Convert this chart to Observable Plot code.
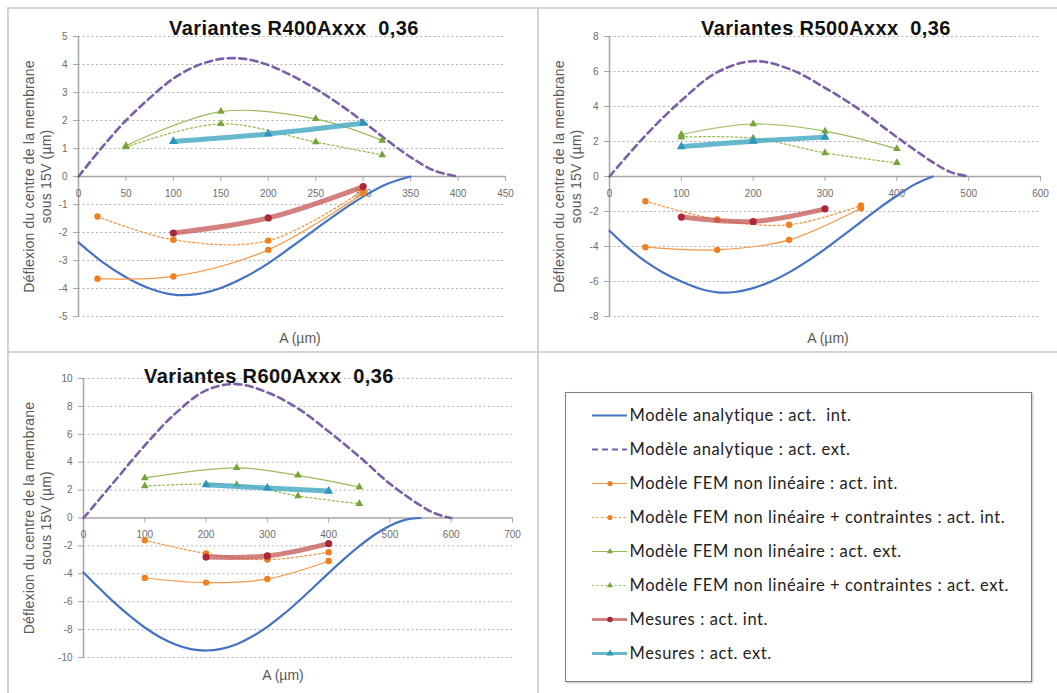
<!DOCTYPE html>
<html><head><meta charset="utf-8">
<script src="https://cdn.jsdelivr.net/npm/d3@7"></script>
<script src="https://cdn.jsdelivr.net/npm/@observablehq/plot@0.6"></script>
<style>
body{margin:0;background:#fff;}
#page{position:relative;width:1057px;height:693px;overflow:hidden;background:#fff;font-family:"Liberation Sans",Arial,sans-serif;}
.box{position:absolute;}
.sep{position:absolute;background:#d2d2d2;}
.title{position:absolute;font-weight:bold;font-size:20px;letter-spacing:0.4px;line-height:22px;color:#111;white-space:pre;transform:translateX(-50%);}
#legend{position:absolute;left:565px;top:392px;width:467px;height:290px;box-sizing:border-box;border:1.5px solid #7f7f7f;box-shadow:1px 1px 2px rgba(0,0,0,0.25);background:#fff;}
#legend svg text{letter-spacing:0.6px;}
.ylab text{letter-spacing:0.2px;}
</style></head>
<body><div id="page"></div>
<script>
// ---------- R400 ----------
const r400_xTicks = [0,50,100,150,200,250,300,350,400,450];
const r400_yTicks = [-5,-4,-3,-2,-1,0,1,2,3,4,5];
const r400_anaInt_A = [0,25,50,75,100,125,150,175,200,225,250,275,300,325,350];
const r400_anaInt   = [-2.35,-3.05,-3.6,-4.0,-4.22,-4.2,-3.98,-3.6,-3.1,-2.5,-1.88,-1.27,-0.72,-0.27,0];
const r400_anaExt_A = [0,25,50,75,100,125,150,175,200,225,250,275,300,325,350,375,400];
const r400_anaExt   = [0,1.05,2.0,2.8,3.5,3.96,4.2,4.2,3.98,3.6,3.13,2.58,1.96,1.3,0.69,0.21,0];
const r400_femInt_A = [20,100,200,300];
const r400_femInt   = [-3.65,-3.57,-2.62,-0.6];
const r400_femCInt_A = [20,100,200,300];
const r400_femCInt   = [-1.43,-2.26,-2.29,-0.5];
const r400_femExt_A = [50,150,250,320];
const r400_femExt   = [1.1,2.32,2.06,1.29];
const r400_femCExt_A = [50,150,250,320];
const r400_femCExt   = [1.05,1.88,1.23,0.77];
const r400_mesInt_A = [100,200,300];
const r400_mesInt   = [-2.02,-1.48,-0.36];
const r400_mesExt_A = [100,200,300];
const r400_mesExt   = [1.25,1.52,1.9];

// ---------- R500 ----------
const r500_xTicks = [0,100,200,300,400,500,600];
const r500_yTicks = [-8,-6,-4,-2,0,2,4,6,8];
const r500_anaInt_A = [0,25,50,75,100,125,150,175,200,225,250,275,300,325,350,375,400,425,450];
const r500_anaInt   = [-3.1,-4.05,-4.85,-5.5,-6.0,-6.4,-6.62,-6.6,-6.38,-6.0,-5.48,-4.85,-4.15,-3.38,-2.6,-1.82,-1.1,-0.45,0];
const r500_anaExt_A = [0,50,100,150,200,250,300,350,400,450,475,500];
const r500_anaExt   = [0,2.34,4.34,5.96,6.59,6.15,5.07,3.77,2.25,0.82,0.25,0];
const r500_femInt_A = [50,150,250,350];
const r500_femInt   = [-4.04,-4.19,-3.62,-1.81];
const r500_femCInt_A = [50,150,250,350];
const r500_femCInt   = [-1.41,-2.46,-2.76,-1.66];
const r500_femExt_A = [100,200,300,400];
const r500_femExt   = [2.4,3.0,2.59,1.58];
const r500_femCExt_A = [100,200,300,400];
const r500_femCExt   = [2.25,2.19,1.35,0.78];
const r500_mesInt_A = [100,200,300];
const r500_mesInt   = [-2.32,-2.57,-1.85];
const r500_mesExt_A = [100,200,300];
const r500_mesExt   = [1.71,2.02,2.25];

// ---------- R600 ----------
const r600_xTicks = [0,100,200,300,400,500,600,700];
const r600_yTicks = [-10,-8,-6,-4,-2,0,2,4,6,8,10];
const r600_anaInt_A = [0,25,50,75,100,125,150,175,200,225,250,275,300,325,350,375,400,425,450,475,500,525,550];
const r600_anaInt   = [-3.9,-5.0,-6.05,-7.0,-7.85,-8.55,-9.07,-9.4,-9.5,-9.38,-9.05,-8.5,-7.8,-6.95,-6.0,-4.98,-3.95,-2.95,-2.02,-1.2,-0.55,-0.13,0];
const r600_anaExt_A = [0,50,100,150,200,250,300,350,400,450,500,550,575,600];
const r600_anaExt   = [0,2.6,5.2,7.5,9.15,9.6,9.0,7.85,6.2,4.4,2.45,0.9,0.3,0];
const r600_femInt_A = [100,200,300,400];
const r600_femInt   = [-4.3,-4.63,-4.37,-3.08];
const r600_femCInt_A = [100,200,300,400];
const r600_femCInt   = [-1.6,-2.55,-2.98,-2.46];
const r600_femExt_A = [100,250,350,450];
const r600_femExt   = [2.87,3.6,3.06,2.22];
const r600_femCExt_A = [100,250,350,450];
const r600_femCExt   = [2.29,2.39,1.58,1.03];
const r600_mesInt_A = [200,300,400];
const r600_mesInt   = [-2.8,-2.72,-1.84];
const r600_mesExt_A = [200,300,400];
const r600_mesExt   = [2.39,2.15,1.93];

// ---------- texts ----------
const titles = ["Variantes R400Axxx  0,36", "Variantes R500Axxx  0,36", "Variantes R600Axxx  0,36"];
const yLabel = "Déflexion du centre de la membrane\nsous 15V (µm)";
const xLabel = "A (µm)";
const legendLabels = [
  "Modèle analytique : act.  int.",
  "Modèle analytique : act. ext.",
  "Modèle FEM non linéaire : act. int.",
  "Modèle FEM non linéaire + contraintes : act. int.",
  "Modèle FEM non linéaire : act. ext.",
  "Modèle FEM non linéaire + contraintes : act. ext.",
  "Mesures : act. int.",
  "Mesures : act. ext."
];

// ---------- styles ----------
const order = ["anaInt","anaExt","femInt","femCInt","femExt","femCExt","mesInt","mesExt"];
const styles = {
  anaInt:  {stroke:"#4472C4", strokeWidth:2.2},
  anaExt:  {stroke:"#7B5EA8", strokeWidth:2.6, dash:"7,4.5"},
  femInt:  {stroke:"#F79646", strokeWidth:1.2, marker:"circle", fill:"#F07F1E", r:3.2},
  femCInt: {stroke:"#F79646", strokeWidth:1.3, dash:"2,2.5", marker:"circle", fill:"#F07F1E", r:3.2},
  femExt:  {stroke:"#9BBB59", strokeWidth:1.2, marker:"triangle", fill:"#77A43A", r:2.9},
  femCExt: {stroke:"#9BBB59", strokeWidth:1.3, dash:"2,2.5", marker:"triangle", fill:"#77A43A", r:2.9},
  mesInt:  {stroke:"#C0504D", strokeWidth:5, opacity:0.72, marker:"circle", fill:"#A8283A", r:3.6},
  mesExt:  {stroke:"#4BACC6", strokeWidth:5, opacity:0.85, marker:"triangle", fill:"#2E96BA", r:3.3}
};

const zip = (A, V) => A.map((a, i) => ({a, v: V[i]}));

const panels = [
  {left:8, top:8, w:530, h:344, ml:70, mr:33, mt:28, mb:36, xDomain:[0,450], yDomain:[-5,5],
   xTicks:r400_xTicks, yTicks:r400_yTicks, yDx:-41.5, xDx:8, xDy:22,
   title:titles[0], tx:294, ty:17,
   series:{anaInt:zip(r400_anaInt_A,r400_anaInt), anaExt:zip(r400_anaExt_A,r400_anaExt),
     femInt:zip(r400_femInt_A,r400_femInt), femCInt:zip(r400_femCInt_A,r400_femCInt),
     femExt:zip(r400_femExt_A,r400_femExt), femCExt:zip(r400_femCExt_A,r400_femCExt),
     mesInt:zip(r400_mesInt_A,r400_mesInt), mesExt:zip(r400_mesExt_A,r400_mesExt)}},
  {left:538, top:8, w:519, h:344, ml:71, mr:17, mt:28, mb:36, xDomain:[0,600], yDomain:[-8,8],
   xTicks:r500_xTicks, yTicks:r500_yTicks, yDx:-42.5, xDx:3, xDy:22,
   title:titles[1], tx:826, ty:17,
   series:{anaInt:zip(r500_anaInt_A,r500_anaInt), anaExt:zip(r500_anaExt_A,r500_anaExt),
     femInt:zip(r500_femInt_A,r500_femInt), femCInt:zip(r500_femCInt_A,r500_femCInt),
     femExt:zip(r500_femExt_A,r500_femExt), femCExt:zip(r500_femCExt_A,r500_femCExt),
     mesInt:zip(r500_mesInt_A,r500_mesInt), mesExt:zip(r500_mesExt_A,r500_mesExt)}},
  {left:8, top:352, w:530, h:341, ml:75, mr:26, mt:26, mb:36, xDomain:[0,700], yDomain:[-10,10],
   xTicks:r600_xTicks, yTicks:r600_yTicks, yDx:-46.5, xDx:-15, xDy:18,
   title:titles[2], tx:269, ty:365,
   series:{anaInt:zip(r600_anaInt_A,r600_anaInt), anaExt:zip(r600_anaExt_A,r600_anaExt),
     femInt:zip(r600_femInt_A,r600_femInt), femCInt:zip(r600_femCInt_A,r600_femCInt),
     femExt:zip(r600_femExt_A,r600_femExt), femCExt:zip(r600_femCExt_A,r600_femCExt),
     mesInt:zip(r600_mesInt_A,r600_mesInt), mesExt:zip(r600_mesExt_A,r600_mesExt)}}
];

const page = document.getElementById("page");
function sep(l, t, w, h) {
  const d = document.createElement("div");
  d.className = "sep";
  Object.assign(d.style, {left:l+"px", top:t+"px", width:w+"px", height:h+"px"});
  page.appendChild(d);
}

const axisGray = "#a6a6a6";
const tickText = "#6d6d6d";

for (const p of panels) {
  const marks = [
    Plot.gridY(p.yTicks.filter(t => t !== 0), {stroke:"#b4b4b4", strokeOpacity:1, strokeWidth:1, strokeDasharray:"2,2.5"}),
    Plot.ruleY([0], {stroke:axisGray, strokeWidth:1.5}),
    Plot.ruleX([0], {stroke:axisGray, strokeWidth:1.5}),
    Plot.ruleX(p.xTicks, {x:d => d, y1:0, y2:0, insetBottom:-5, stroke:axisGray}),
    Plot.text(p.xTicks, {x:d => d, y:0, dy:17, text:d => String(d), fontSize:10, fill:tickText}),
    Plot.axisY(p.yTicks, {label:null, tickSize:5, tickPadding:6, tickFormat:d => String(d), fontSize:10, color:tickText, stroke:axisGray})
  ];
  for (const key of order) {
    const s = styles[key], data = p.series[key];
    marks.push(Plot.line(data, {x:"a", y:"v", curve:"catmull-rom", stroke:s.stroke, strokeWidth:s.strokeWidth,
      strokeOpacity:s.opacity ?? 1, strokeDasharray:s.dash, strokeLinecap:"round"}));
    if (s.marker) marks.push(Plot.dot(data, {x:"a", y:"v", symbol:s.marker, r:s.r, fill:s.fill, stroke:"none"}));
  }
  marks.push(Plot.text([yLabel], {frameAnchor:"left", rotate:-90, dx:p.yDx, textAnchor:"middle", lineAnchor:"middle",
    text:d => d, fontSize:14, lineHeight:1.2, fill:"#595959", className:"ylab"}));
  marks.push(Plot.text([xLabel], {frameAnchor:"bottom", dx:p.xDx, dy:p.xDy, textAnchor:"middle", lineAnchor:"middle",
    text:d => d, fontSize:14, fill:"#595959"}));

  const chart = Plot.plot({
    width:p.w, height:p.h,
    marginLeft:p.ml, marginRight:p.mr, marginTop:p.mt, marginBottom:p.mb,
    x:{domain:p.xDomain, axis:null},
    y:{domain:p.yDomain, axis:null},
    style:{background:"transparent", fontFamily:"'Liberation Sans', Arial, sans-serif", overflow:"visible"},
    marks
  });
  const holder = document.createElement("div");
  holder.className = "box";
  holder.style.left = p.left + "px";
  holder.style.top = p.top + "px";
  holder.appendChild(chart);
  page.appendChild(holder);

  const t = document.createElement("div");
  t.className = "title";
  t.textContent = p.title;
  t.style.left = p.tx + "px";
  t.style.top = p.ty + "px";
  page.appendChild(t);
}

// separators / borders
sep(7, 7, 1050, 2);
sep(7, 7, 2, 686);
sep(537, 7, 2, 686);
sep(7, 351, 1050, 2);

// legend
const legendBox = document.createElement("div");
legendBox.id = "legend";
page.appendChild(legendBox);
const legendStyles = {
  anaInt:{w:2}, anaExt:{w:2.2, dash:"6,4"}, femInt:{w:1.2, r:2.6}, femCInt:{w:1.2, dash:"2,2.5", r:2.6},
  femExt:{w:1.2, r:2.3}, femCExt:{w:1.2, dash:"2,2.5", r:2.3}, mesInt:{w:3, r:2.8}, mesExt:{w:3, r:2.6}
};
const lmarks = [];
order.forEach((key, i) => {
  const s = styles[key], ls = legendStyles[key], lab = legendLabels[i];
  lmarks.push(Plot.ruleY([lab], {y:d => d, x1:0, x2:1, stroke:s.stroke, strokeWidth:ls.w, strokeOpacity:s.opacity ?? 1, strokeDasharray:ls.dash}));
  if (s.marker) lmarks.push(Plot.dot([lab], {x:0.5, y:d => d, symbol:s.marker, r:ls.r, fill:s.fill, stroke:"none"}));
});
lmarks.push(Plot.text(legendLabels, {x:1, y:d => d, dx:2, text:d => d, textAnchor:"start", fontSize:16.5, fill:"#222"}));
const legendPlot = Plot.plot({
  width:464, height:287, margin:0,
  x:{domain:[0,1], range:[26,61], axis:null},
  y:{type:"point", domain:legendLabels, range:[22,260], padding:0, axis:null},
  style:{background:"transparent", fontFamily:"Lato, 'Open Sans', sans-serif", overflow:"visible"},
  marks:lmarks
});
legendBox.appendChild(legendPlot);
</script>
</body></html>
